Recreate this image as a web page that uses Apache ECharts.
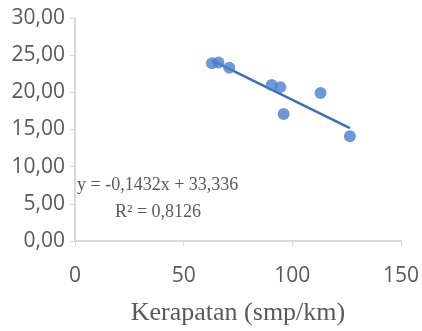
<!DOCTYPE html>
<html>
<head>
<meta charset="utf-8">
<script src="https://cdn.jsdelivr.net/npm/echarts@6/dist/echarts.min.js"></script>
<style>
  html, body { margin: 0; padding: 0; background: #fff; }
  #chart { width: 422px; height: 331px; }
</style>
</head>
<body>
<div id="chart"></div>
<script>
// data
const kerapatan = [63, 66, 71, 90.5, 94.5, 96, 113, 126.5];
const kecepatan = [23.9, 24.0, 23.3, 21.0, 20.7, 17.1, 19.9, 14.1];
const trendX = [63, 126.5];
const trendY = [24.3, 15.2];
const xTicks = [0, 50, 100, 150];
const yTicks = [0, 5, 10, 15, 20, 25, 30];
const eqText = 'y = -0,1432x + 33,336';
const r2Text = 'R² = 0,8126';

const axisGrey = '#d9d9d9';
const textGrey = '#595959';
const dotBlue = '#4a80cc';

const myChart = echarts.init(document.getElementById('chart'));

myChart.setOption({
  animation: false,
  grid: { left: 75, right: 18, top: 18, bottom: 83 },
  xAxis: {
    type: 'value',
    min: xTicks[0],
    max: xTicks[xTicks.length - 1],
    interval: 50,
    name: 'Kerapatan (smp/km)',
    nameLocation: 'middle',
    nameGap: 59,
    nameTextStyle: { fontFamily: 'Liberation Serif', fontSize: 26, color: textGrey },
    axisLine: { lineStyle: { color: axisGrey, width: 2 } },
    axisTick: { show: true, inside: false, length: 5, lineStyle: { color: axisGrey } },
    splitLine: { show: false },
    axisLabel: {
      margin: 25,
      fontFamily: 'Open Sans',
      fontSize: 21,
      color: textGrey,
    },
  },
  yAxis: {
    type: 'value',
    min: yTicks[0],
    max: yTicks[yTicks.length - 1],
    interval: 5,
    axisLine: { show: true, lineStyle: { color: axisGrey, width: 2 } },
    axisTick: { show: true, length: 5, lineStyle: { color: axisGrey } },
    splitLine: { show: false },
    axisLabel: {
      margin: 10,
      fontFamily: 'Open Sans',
      fontSize: 21,
      color: textGrey,
      formatter: (v) => v.toFixed(2).replace('.', ','),
    },
  },
  graphic: [
    {
      type: 'text',
      left: 77,
      top: 176,
      style: { text: eqText, font: '18px "Liberation Serif"', fill: textGrey },
    },
    {
      type: 'text',
      left: 115,
      top: 203,
      style: { text: r2Text, font: '18px "Liberation Serif"', fill: textGrey },
    },
  ],
  series: [
    {
      type: 'line',
      data: trendX.map((x, i) => [x, trendY[i]]),
      symbol: 'none',
      lineStyle: { color: '#3d6fb5', width: 2.5 },
      z: 1,
    },
    {
      type: 'scatter',
      data: kerapatan.map((x, i) => [x, kecepatan[i]]),
      symbolSize: 12,
      itemStyle: { color: dotBlue },
      z: 2,
    },
  ],
});
</script>
</body>
</html>
